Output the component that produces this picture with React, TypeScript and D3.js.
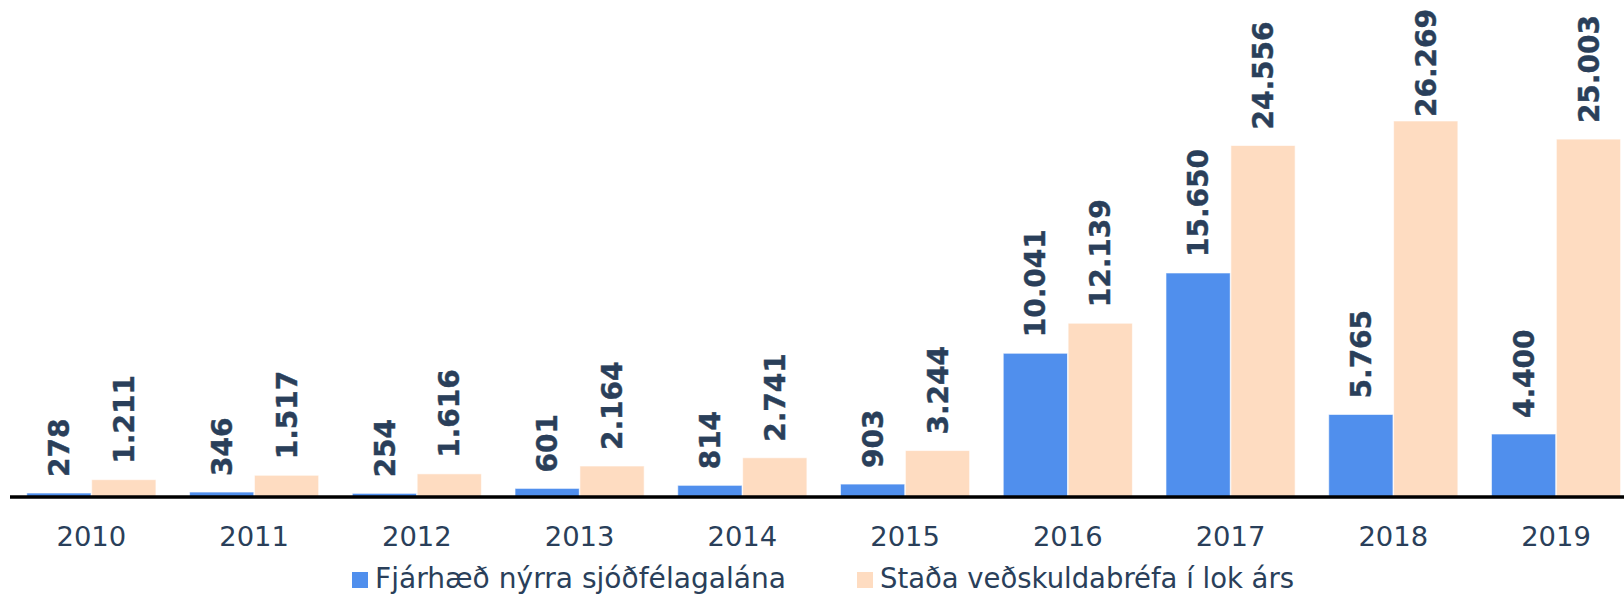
import React from "react";
import * as d3 from "d3";

const years = ["2010", "2011", "2012", "2013", "2014", "2015", "2016", "2017", "2018", "2019"];
const newLoans = [278, 346, 254, 601, 814, 903, 10041, 15650, 5765, 4400];
const balance = [1211, 1517, 1616, 2164, 2741, 3244, 12139, 24556, 26269, 25003];
const seriesNames = ["Fjárhæð nýrra sjóðfélagalána", "Staða veðskuldabréfa í lok árs"];
const colors = ["#508fed", "#fedcc1"];

const W = 1624;
const H = 595;
const textColor = "#2a3f5a";
const font = "'DejaVu Sans', Verdana, sans-serif";
const labelSize = 28;

const fmt = (v: number) => d3.format(",")(v).replace(/,/g, ".");
const labelLen = (s: string) =>
  s.split("").reduce((acc, c) => acc + (c === "." ? 0.38 : 0.696), 0) * labelSize;

export default function App() {
  const x0 = d3.scaleBand<string>().domain(years).range([10, 1637.4]).paddingInner(0.2066).paddingOuter(0.1033);
  const x1 = d3.scaleBand<number>().domain([0, 1]).range([0, x0.bandwidth()]).paddingInner(0.01);
  const y = d3.scaleLinear().domain([0, 26269]).range([497, 121]);
  const series = [newLoans, balance];

  const legendItems = [
    { name: seriesNames[0], color: colors[0], x: 352, len: 411 },
    { name: seriesNames[1], color: colors[1], x: 857, len: 414 },
  ];

  return (
    <svg width={W} height={H} style={{ position: "absolute", left: 0, top: 0, background: "#fff" }} fontFamily={font}>
      {years.map((yr, i) => (
        <g key={yr} transform={`translate(${x0(yr)},0)`}>
          {series.map((s, k) => {
            const bx = x1(k)!;
            const bw = x1.bandwidth();
            const top = y(s[i]);
            const cx = bx + bw / 2;
            const label = fmt(s[i]);
            const startY = Math.max(top - 16, 9 + labelLen(label));
            return (
              <g key={k}>
                <rect x={bx} y={top} width={bw} height={y(0) - top} fill={colors[k]} stroke="#ffffff" strokeOpacity={0.6} strokeWidth={1} />
                <text
                  transform={`translate(${cx},${startY}) rotate(-90)`}
                  dy="0.36em"
                  textAnchor="start"
                  fontSize={labelSize}
                  fontWeight="bold"
                  fill={textColor}
                  stroke={textColor}
                  strokeWidth={0.4}
                >
                  {label}
                </text>
              </g>
            );
          })}
          <text x={x0.bandwidth() / 2} y={545.5} textAnchor="middle" fontSize={27.4} fill={textColor}>
            {yr}
          </text>
        </g>
      ))}
      <line x1={10} x2={1637} y1={y(0)} y2={y(0)} stroke="#000" strokeWidth={3.5} />
      {legendItems.map((it) => (
        <g key={it.name}>
          <rect x={it.x} y={572} width={16} height={16} fill={it.color} />
          <text x={it.x + 23} y={588} fontSize={27.6} fill={textColor} textLength={it.len} lengthAdjust="spacingAndGlyphs">
            {it.name}
          </text>
        </g>
      ))}
    </svg>
  );
}
